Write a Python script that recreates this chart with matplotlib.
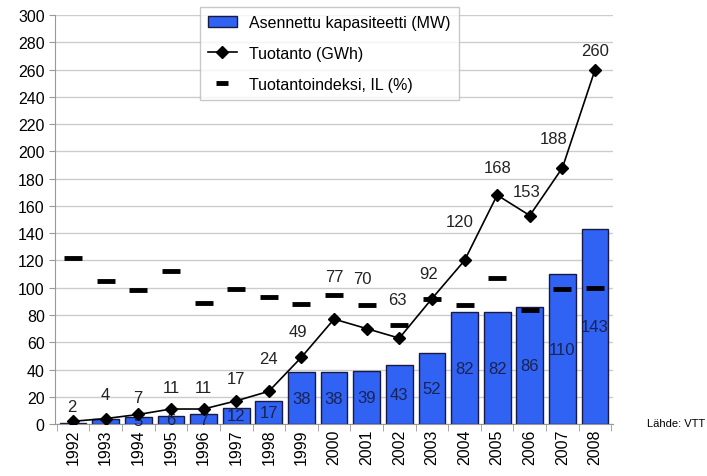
import matplotlib.pyplot as plt
from matplotlib.lines import Line2D
import numpy as np

plt.rcParams['font.family'] = ['Liberation Sans', 'DejaVu Sans']

years = [str(y) for y in range(1992, 2009)]
capacity = [1, 4, 5, 6, 7, 12, 17, 38, 38, 39, 43, 52, 82, 82, 86, 110, 143]
production = [2, 4, 7, 11, 11, 17, 24, 49, 77, 70, 63, 92, 120, 168, 153, 188, 260]
index_il = [122, 105, 98, 112, 89, 99, 93, 88, 95, 87, 73, 92, 87, 107, 84, 99, 100]
# 1992 ja 1993 kapasiteettien luvut jäävät merkkien alle
cap_labels = ["", "", "5", "6", "7", "12", "17", "38", "38", "39", "43", "52",
              "82", "82", "86", "110", "143"]

# tuotantolukujen siirrot pisteestä (pikseleinä), kuten alkuperäisessä kuvassa
lab_dx = [-1, 0, -1, 0, 0, 0, 0, -3, 0, -4, -2, -3, -5, 0, -3, -9, 0]
lab_dy = [15, 24, 17, 22, 22, 22, 33, 26, 43, 50, 39, 25, 39, 28, 24, 29, 19]

fig = plt.figure(figsize=(7.07, 4.77), dpi=100)
ax = fig.add_axes([0.078, 0.109, 0.789, 0.857])

x = np.arange(len(years))
ax.bar(x, capacity, width=0.82, color="#3062f4", edgecolor="#1a1a40",
       linewidth=1.0, zorder=2)
for xi, c, lab in zip(x, capacity, cap_labels):
    ax.text(xi, c / 2, lab, ha="center", va="center", fontsize=12, color="#1a2350", zorder=3)

ax.plot(x, index_il, linestyle="none", marker="_", markersize=13, mew=3.5,
        color="black", zorder=4)
ax.plot(x, production, color="black", linewidth=1.2, marker="D", markersize=6, zorder=5)
for xi, p, dx, dy in zip(x, production, lab_dx, lab_dy):
    ax.annotate(str(p), (xi, p), xytext=(dx, dy), textcoords="offset pixels",
                ha="center", va="center", fontsize=12, color="#222222", zorder=6)

ax.set_ylim(0, 300)
ax.set_xlim(-0.55, len(years) - 0.45)
ax.set_yticks(range(0, 301, 20))
ax.set_xticks(x)
ax.set_xticklabels(years, rotation=90, fontsize=11.5)
ax.tick_params(axis="y", labelsize=11.5, color="#999999", length=4)
ax.tick_params(axis="x", length=0)
ax.set_xticks(np.arange(-0.5, len(years)), minor=True)
ax.tick_params(axis="x", which="minor", length=5, color="#999999")
ax.grid(axis="y", color="#cccccc", linewidth=1.0, zorder=0)
ax.set_axisbelow(True)
for s in ["top", "right"]:
    ax.spines[s].set_visible(False)
ax.spines["left"].set_color("#999999")
ax.spines["bottom"].set_color("#999999")

handles = [
    plt.Rectangle((0, 0), 1, 1, facecolor="#3062f4", edgecolor="#1a1a40", linewidth=1.0),
    Line2D([], [], color="black", linewidth=1.2, marker="D", markersize=6),
    Line2D([], [], linestyle="none", marker="_", markersize=9, mew=3.5, color="black"),
]
labels = ["Asennettu kapasiteetti (MW)", "Tuotanto (GWh)", "Tuotantoindeksi, IL (%)"]
leg = ax.legend(handles, labels, loc="upper left", bbox_to_anchor=(0.245, 1.04),
                fontsize=11.5, frameon=True, fancybox=False, edgecolor="#bbbbbb",
                handlelength=1.8, labelspacing=1.0, borderpad=0.5)
leg.get_frame().set_linewidth(1.0)

fig.text(0.997, 0.112, "Lähde: VTT", fontsize=8, ha="right", va="center")

fig.savefig("out.png", dpi=100)
